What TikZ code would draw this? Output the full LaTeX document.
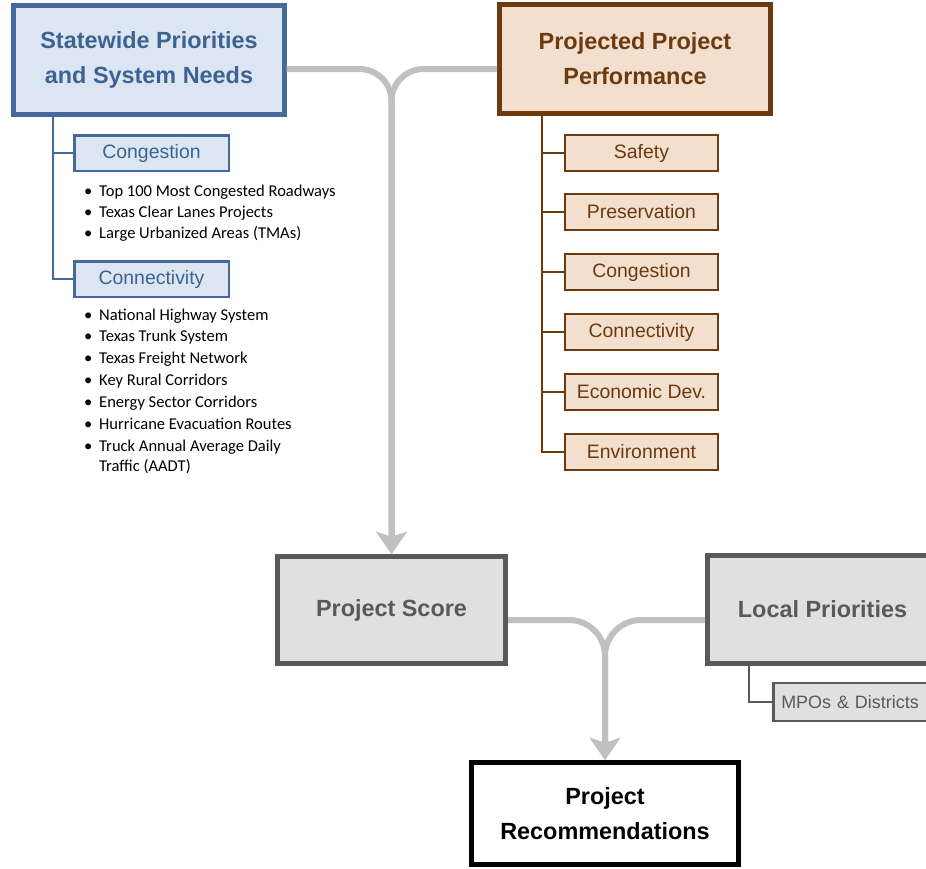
\documentclass[tikz,border=0pt]{standalone}
\usepackage{fontspec}
\setmainfont{Liberation Sans}
\newfontfamily\carl{Carlito}
\usetikzlibrary{arrows.meta}
\definecolor{bluefill}{HTML}{DCE6F2}
\definecolor{blueline}{HTML}{44699A}
\definecolor{bluetext}{HTML}{3D6391}
\definecolor{brownfill}{HTML}{F2DFCE}
\definecolor{brownline}{HTML}{6B3A0F}
\definecolor{greyfill}{HTML}{E0E0E0}
\definecolor{greyline}{HTML}{595959}
\definecolor{connc}{HTML}{C0C0C0}
\tikzset{
  x=1bp, y=-1bp,
  mainbox/.style={draw, rectangle, line width=5bp, inner sep=0pt, align=center,
    font=\fontsize{23.5}{35}\selectfont\bfseries},
  subbox/.style={draw, rectangle, line width=2.5bp, inner sep=0pt, align=center,
    font=\fontsize{19.5}{23}\selectfont},
  bluebox/.style={fill=bluefill, draw=blueline, text=bluetext},
  brownbox/.style={fill=brownfill, draw=brownline, text=brownline},
  greybox/.style={fill=greyfill, draw=greyline, text=greyline},
  conn/.style={draw=connc, line width=6bp, -{Stealth[width=30bp,length=22bp,inset=5bp]}},
  tree/.style={line width=2.5bp},
  item/.style={anchor=base west, inner sep=0pt, align=left,
    font=\carl\fontsize{16.6}{20.5}\selectfont, text=black},
}
\begin{document}
\begin{tikzpicture}
\useasboundingbox (0,0) rectangle (926,869);
\clip (0,0) rectangle (926,869);
\fill[white] (0,0) rectangle (926,869);

% main boxes
\node[mainbox, bluebox, minimum width=270bp, minimum height=108bp] (SW) at (149,60)
  {Statewide Priorities\\and System Needs};
\node[mainbox, brownbox, minimum width=271bp, minimum height=109bp] (PPP) at (635,59)
  {Projected Project\\Performance};
\node[mainbox, greybox, minimum width=228bp, minimum height=107bp] (PS) at (391.5,610)
  {Project Score};
\node[mainbox, greybox, minimum width=230bp, minimum height=108bp] (LP) at (822.5,609.5)
  {Local Priorities};
\node[mainbox, draw=black, fill=white, text=black, minimum width=267bp, minimum height=102bp] (PR) at (605,813.5)
  {Project\\Recommendations};

% connectors
\coordinate (j1) at (392,69);
\coordinate (j2) at (605,620);
\draw[conn, rounded corners=32bp] (SW.east |- j1) -| (PS.north);
\draw[conn, rounded corners=32bp] (PPP.west |- j1) -| (PS.north);
\draw[conn, rounded corners=36bp] (PS.east |- j2) -| (PR.north);
\draw[conn, rounded corners=36bp] (LP.west |- j2) -| (PR.north);

% left sub tree
\node[subbox, bluebox, minimum width=154.5bp, minimum height=35.5bp] (C1) at (151.5,153) {Congestion};
\node[subbox, bluebox, minimum width=154.5bp, minimum height=35.5bp] (C2) at (151.5,279) {Connectivity};
\coordinate (t1) at (53,0);
\draw[tree, draw=blueline] (SW.south -| t1) |- (C1.west);
\draw[tree, draw=blueline] (SW.south -| t1) |- (C2.west);

\node[item] (b1) at (84,196) {\makebox[15bp][l]{•}Top 100 Most Congested Roadways};
\node[item] (b2) at (84,217) {\makebox[15bp][l]{•}Texas Clear Lanes Projects};
\node[item] (b3) at (84,238) {\makebox[15bp][l]{•}Large Urbanized Areas (TMAs)};
\node[item] (b4) at (84,320) {\makebox[15bp][l]{•}National Highway System};
\node[item] (b5) at (84,341) {\makebox[15bp][l]{•}Texas Trunk System};
\node[item] (b6) at (84,363) {\makebox[15bp][l]{•}Texas Freight Network};
\node[item] (b7) at (84,385) {\makebox[15bp][l]{•}Key Rural Corridors};
\node[item] (b8) at (84,407) {\makebox[15bp][l]{•}Energy Sector Corridors};
\node[item] (b9) at (84,429) {\makebox[15bp][l]{•}Hurricane Evacuation Routes};
\node[item] (b10) at (84,451) {\makebox[15bp][l]{•}Truck Annual Average Daily};
\node[item] (b11) at (99,471) {Traffic (AADT)};

% right sub tree
\coordinate (t2) at (542,0);
\foreach \n/\y/\t in {P1/153/Safety, P2/212/Preservation, P3/272/Congestion, P4/332/Connectivity, P5/392/Economic Dev., P6/452/Environment}{
  \node[subbox, brownbox, minimum width=153bp, minimum height=36bp] (\n) at (641.5,\y) {\t};
  \draw[tree, draw=brownline] (PPP.south -| t2) |- (\n.west);
}

% local sub tree
\node[subbox, greybox, anchor=west, text width=160bp, align=left, inner xsep=8bp,
  minimum height=38bp, font=\fontsize{18}{22}\selectfont] (MPO) at (772,702) {MPOs \& Districts};
\coordinate (t3) at (749,0);
\draw[tree, draw=greyline] (LP.south -| t3) |- (MPO.west);
\end{tikzpicture}
\end{document}
